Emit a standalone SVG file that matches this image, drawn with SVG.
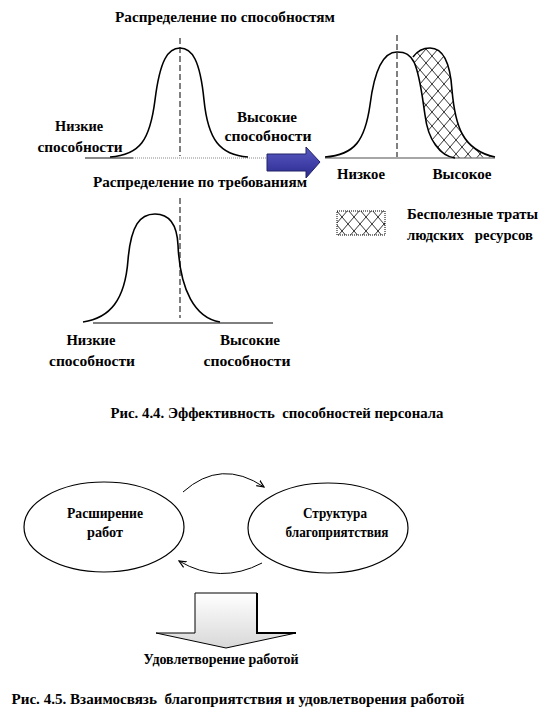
<svg xmlns="http://www.w3.org/2000/svg" width="556" height="724" viewBox="0 0 556 724">
<defs>
<pattern id="hatch" width="12" height="14" patternUnits="userSpaceOnUse">
<path d="M0,0 L12,14 M12,0 L0,14" stroke="#000" stroke-width="0.8" fill="none"/>
</pattern>
<marker id="arr" viewBox="0 0 10 10" refX="9" refY="5" markerWidth="8" markerHeight="8" orient="auto">
<path d="M0,1 L9,5 L0,9" fill="none" stroke="#000" stroke-width="1.5"/>
</marker>
<linearGradient id="blue" x1="0" y1="0" x2="0" y2="1">
<stop offset="0" stop-color="#5a5ac4"/>
<stop offset="1" stop-color="#2a2a90"/>
</linearGradient>
<linearGradient id="shade" x1="0" y1="0" x2="0" y2="1">
<stop offset="0" stop-color="#ffffff"/>
<stop offset="1" stop-color="#d8d8d8"/>
</linearGradient>
</defs>

<g id="fig44">
<g id="graph-top" fill="none" stroke="#000">
<line x1="85" y1="158" x2="133" y2="158" stroke="#888" stroke-width="2"/>
<line x1="133" y1="158" x2="268" y2="158" stroke="#888" stroke-width="1" stroke-dasharray="1,1"/>
<line x1="180" y1="38" x2="180" y2="156" stroke-width="1" stroke-dasharray="6,3"/>
<path stroke-width="1.6" d="M110,157 C140,155 150,140 155,100 C160,60 168,48 180,48 C192,48 200,60 204,100 C208,140 220,155 248,157"/>
</g>
<g id="blue-arrow">
<path d="M267,154 L306,154 L306,147 L320,162 L306,178 L306,171 L267,171 Z" fill="url(#blue)" stroke="#222266" stroke-width="1"/>
</g>
<g id="graph-bottom" fill="none" stroke="#000">
<line x1="93" y1="323" x2="273" y2="323" stroke-width="1"/>
<line x1="180" y1="198" x2="180" y2="318" stroke-width="1" stroke-dasharray="6,3"/>
<path stroke-width="1.6" d="M83,322 C110,318 125,300 128,260 C131,225 140,214 155,214 C170,214 177,225 178,245 C180,290 195,318 220,322"/>
</g>
<g id="graph-right">
<line x1="325" y1="158" x2="495" y2="158" stroke="#888" stroke-width="1.5"/>
<path d="M413,57 C418,50 424,48 430,48 C442,48 450,60 452,90 C455,125 462,150 495,157 L455,158 C440,156 428,140 425,115 C422,95 420,75 414,62 Z" fill="url(#hatch)" stroke="none"/>
<line x1="397" y1="35" x2="397" y2="157" stroke="#000" stroke-width="1" stroke-dasharray="6,3"/>
<path fill="none" stroke="#000" stroke-width="1.6" d="M325,157 C355,155 365,140 370,105 C375,65 385,52 397,52 C406,52 410,55 414,62 C420,75 422,95 425,115 C428,140 440,156 455,158"/>
<path fill="none" stroke="#000" stroke-width="1.6" d="M413,57 C418,50 424,48 430,48 C442,48 450,60 452,90 C455,125 462,150 495,157"/>
</g>
<g id="legend">
<rect x="337" y="211" width="48" height="24" fill="url(#hatch)" stroke="#000" stroke-width="1" stroke-dasharray="1,1"/>
</g>
<g id="labels44" font-family="Liberation Serif, serif" font-weight="bold" font-size="14" fill="#000" text-anchor="middle">
<text x="225" y="22" font-family="Liberation Serif" textLength="220" lengthAdjust="spacingAndGlyphs">Распределение по способностям</text>
<text x="79" y="131" font-family="Liberation Serif" textLength="48" lengthAdjust="spacingAndGlyphs">Низкие</text>
<text x="80" y="152" font-family="Liberation Serif" textLength="85" lengthAdjust="spacingAndGlyphs">способности</text>
<text x="267" y="122" font-family="Liberation Serif" textLength="60" lengthAdjust="spacingAndGlyphs">Высокие</text>
<text x="268" y="141" font-family="Liberation Serif" textLength="87" lengthAdjust="spacingAndGlyphs">способности</text>
<text x="200" y="187" font-family="Liberation Serif" textLength="214" lengthAdjust="spacingAndGlyphs">Распределение по требованиям</text>
<text x="91" y="345" font-family="Liberation Serif" textLength="49" lengthAdjust="spacingAndGlyphs">Низкие</text>
<text x="92" y="366" font-family="Liberation Serif" textLength="86" lengthAdjust="spacingAndGlyphs">способности</text>
<text x="250" y="345" font-family="Liberation Serif" textLength="60" lengthAdjust="spacingAndGlyphs">Высокие</text>
<text x="247" y="366" font-family="Liberation Serif" textLength="87" lengthAdjust="spacingAndGlyphs">способности</text>
<text x="361" y="179" font-family="Liberation Serif" textLength="48" lengthAdjust="spacingAndGlyphs">Низкое</text>
<text x="462" y="179" font-family="Liberation Serif" textLength="59" lengthAdjust="spacingAndGlyphs">Высокое</text>
<text x="407" y="219" font-family="Liberation Serif" text-anchor="start" textLength="131" lengthAdjust="spacingAndGlyphs">Бесполезные траты</text>
<text x="407" y="240" font-family="Liberation Serif" text-anchor="start" textLength="126" lengthAdjust="spacingAndGlyphs" xml:space="preserve">людских   ресурсов</text>
<text x="277" y="418" font-family="Liberation Serif" textLength="333" lengthAdjust="spacingAndGlyphs" xml:space="preserve">Рис. 4.4. Эффективность  способностей персонала</text>
</g>
</g>

<g id="fig45">
<g id="node-rasshirenie">
<ellipse cx="104" cy="527" rx="80" ry="45" fill="#fff" stroke="#000" stroke-width="1.2"/>
<text x="105" y="518" font-family="Liberation Serif" font-weight="bold" font-size="14" text-anchor="middle" textLength="76" lengthAdjust="spacingAndGlyphs">Расширение</text>
<text x="105" y="537" font-family="Liberation Serif" font-weight="bold" font-size="14" text-anchor="middle" textLength="36" lengthAdjust="spacingAndGlyphs">работ</text>
</g>
<g id="node-struktura">
<ellipse cx="328" cy="528" rx="80" ry="45" fill="#fff" stroke="#000" stroke-width="1.2"/>
<text x="335" y="518" font-family="Liberation Serif" font-weight="bold" font-size="14" text-anchor="middle" textLength="64" lengthAdjust="spacingAndGlyphs">Структура</text>
<text x="337" y="537" font-family="Liberation Serif" font-weight="bold" font-size="14" text-anchor="middle" textLength="103" lengthAdjust="spacingAndGlyphs">благоприятствия</text>
</g>
<g id="connectors" fill="none" stroke="#000" stroke-width="1">
<path d="M183,492 Q221,458 264,487" marker-end="url(#arr)"/>
<path d="M262,563 Q220,585 179,561" marker-end="url(#arr)"/>
</g>
<g id="block-arrow">
<path d="M195,593 L257,593 L257,633 L296,633 L226,648 L156,633 L195,633 Z" fill="url(#shade)" stroke="#000" stroke-width="1"/>
<path d="M257,593 L257,633 L296,633" fill="none" stroke="#000" stroke-width="2"/>
</g>
<g id="labels45" font-weight="bold" font-size="14" fill="#000" text-anchor="middle">
<text x="221" y="664" font-family="Liberation Serif" textLength="155" lengthAdjust="spacingAndGlyphs">Удовлетворение работой</text>
<text x="238" y="704" font-family="Liberation Serif" textLength="453" lengthAdjust="spacingAndGlyphs" xml:space="preserve">Рис. 4.5. Взаимосвязь  благоприятствия и удовлетворения работой</text>
</g>
</g>
</svg>
